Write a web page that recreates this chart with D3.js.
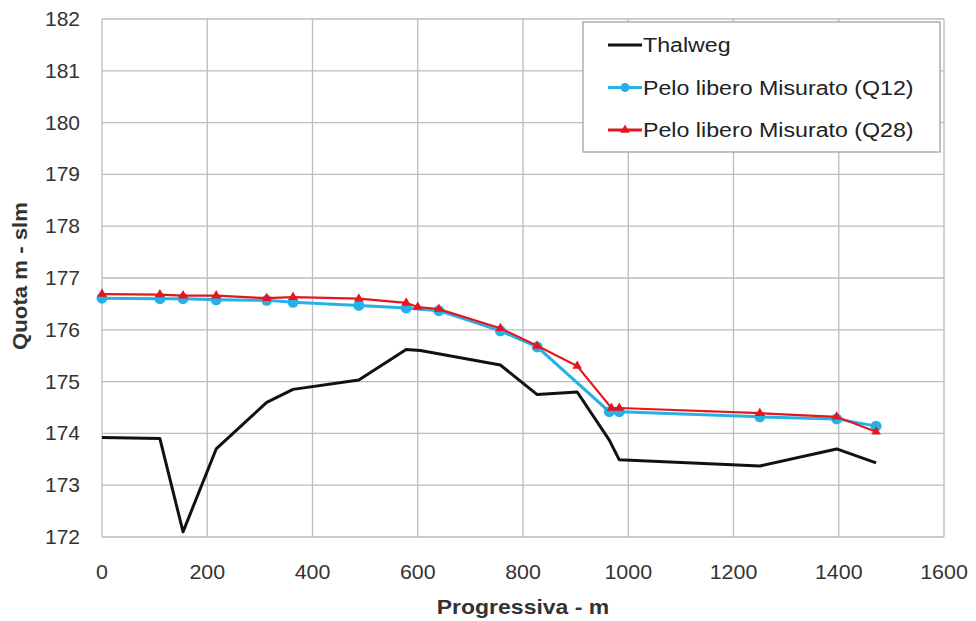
<!DOCTYPE html>
<html>
<head>
<meta charset="utf-8">
<script src="https://cdn.jsdelivr.net/npm/d3@7"></script>
<style>
  body { margin: 0; background: #fff; }
  text { font-family: "Liberation Sans", Arial, sans-serif; }
</style>
</head>
<body>
<div id="chart"></div>
<script>
// values
var thalwegX = [0, 110, 154, 217, 313, 363, 488, 578, 605, 757, 827, 903, 964, 983, 1250, 1396, 1471];
var thalwegY = [173.92, 173.9, 172.1, 173.7, 174.6, 174.85, 175.03, 175.62, 175.6, 175.32, 174.75, 174.8, 173.87, 173.49, 173.37, 173.7, 173.43];

var q12X = [0, 110, 154, 217, 313, 363, 488, 578, 640, 757, 827, 964, 983, 1250, 1396, 1471];
var q12Y = [176.61, 176.6, 176.6, 176.58, 176.57, 176.53, 176.47, 176.42, 176.37, 175.98, 175.67, 174.42, 174.42, 174.32, 174.28, 174.14];

var q28X = [0, 110, 154, 217, 313, 363, 488, 578, 600, 640, 757, 827, 903, 968, 983, 1250, 1396, 1471];
var q28Y = [176.69, 176.68, 176.66, 176.66, 176.61, 176.63, 176.6, 176.52, 176.44, 176.4, 176.03, 175.69, 175.3, 174.49, 174.49, 174.39, 174.32, 174.03];

var xTicks = [0, 200, 400, 600, 800, 1000, 1200, 1400, 1600];
var yTicks = [172, 173, 174, 175, 176, 177, 178, 179, 180, 181, 182];
var legendNames = ["Thalweg", "Pelo libero Misurato (Q12)", "Pelo libero Misurato (Q28)"];

var svgWidth = 976, svgHeight = 621;
var margin = { top: 19, right: 32, bottom: 84, left: 102 };
var width = svgWidth - margin.left - margin.right;
var height = svgHeight - margin.top - margin.bottom;

var svg = d3.select("#chart")
  .append("svg")
  .attr("width", svgWidth)
  .attr("height", svgHeight);

var g = svg.append("g")
  .attr("transform", "translate(" + margin.left + "," + margin.top + ")");

var x = d3.scaleLinear().domain([0, 1600]).range([0, width]);
var y = d3.scaleLinear().domain([172, 182]).range([height, 0]);

// the original text is a bit wider than Liberation Sans, so stretch it
function wideText(parent, tx, ty, str, opts) {
  var t = parent.append("text")
    .attr("transform", "translate(" + tx + "," + ty + ")" + (opts.rotate ? " rotate(" + opts.rotate + ")" : "") + " scale(" + opts.sx + ",1)")
    .attr("text-anchor", opts.anchor || "start")
    .attr("font-size", opts.size)
    .attr("fill", opts.fill || "#333")
    .text(str);
  if (opts.bold) t.attr("font-weight", "bold");
  if (opts.dy) t.attr("dy", opts.dy);
  return t;
}

// grid
g.selectAll(".vgrid").data(xTicks).enter().append("line")
  .attr("x1", function(d) { return x(d); })
  .attr("x2", function(d) { return x(d); })
  .attr("y1", 0).attr("y2", height)
  .attr("stroke", "#bdbdbd").attr("stroke-width", 1.3);

g.selectAll(".hgrid").data(yTicks).enter().append("line")
  .attr("x1", 0).attr("x2", width)
  .attr("y1", function(d) { return y(d); })
  .attr("y2", function(d) { return y(d); })
  .attr("stroke", "#bdbdbd").attr("stroke-width", 1.3);

// tick labels
yTicks.forEach(function(d) {
  wideText(g, -22, y(d), d, { size: 20, sx: 1.05, anchor: "end", dy: "0.35em" });
});
xTicks.forEach(function(d) {
  wideText(g, x(d), height + 42, d, { size: 20, sx: 1.07, anchor: "middle" });
});

// axis titles
wideText(svg, margin.left + width / 2, 614, "Progressiva - m",
  { size: 20, sx: 1.15, anchor: "middle", bold: true });
wideText(svg, 27, 276, "Quota m - slm",
  { size: 20, sx: 1.11, anchor: "middle", bold: true, rotate: -90 });

var line = d3.line()
  .x(function(d) { return x(d[0]); })
  .y(function(d) { return y(d[1]); });

function zipPts(xs, ys) {
  return xs.map(function(v, i) { return [v, ys[i]]; });
}

var thalweg = zipPts(thalwegX, thalwegY);
var q12 = zipPts(q12X, q12Y);
var q28 = zipPts(q28X, q28Y);

g.append("path").datum(thalweg)
  .attr("d", line).attr("fill", "none")
  .attr("stroke", "#111").attr("stroke-width", 3)
  .attr("stroke-linejoin", "round");

g.append("path").datum(q12)
  .attr("d", line).attr("fill", "none")
  .attr("stroke", "#26b1e6").attr("stroke-width", 3);

g.selectAll(".q12pt").data(q12).enter().append("circle")
  .attr("cx", function(d) { return x(d[0]); })
  .attr("cy", function(d) { return y(d[1]); })
  .attr("r", 5.5)
  .attr("fill", "#26b1e6");

g.append("path").datum(q28)
  .attr("d", line).attr("fill", "none")
  .attr("stroke", "#e4161e").attr("stroke-width", 2.2);

var tri = d3.symbol().type(d3.symbolTriangle).size(40);
g.selectAll(".q28pt").data(q28).enter().append("path")
  .attr("d", tri)
  .attr("transform", function(d) { return "translate(" + x(d[0]) + "," + y(d[1]) + ")"; })
  .attr("fill", "#e4161e");

// legend
var lg = svg.append("g").attr("transform", "translate(583,22)");
lg.append("rect")
  .attr("width", 357).attr("height", 130)
  .attr("fill", "#fff")
  .attr("stroke", "#9a9a9a").attr("stroke-width", 1.2);

var legendColors = ["#111", "#26b1e6", "#e4161e"];
legendNames.forEach(function(name, i) {
  var ly = 23 + i * 42.5;
  lg.append("line")
    .attr("x1", 25).attr("x2", 59)
    .attr("y1", ly).attr("y2", ly)
    .attr("stroke", legendColors[i]).attr("stroke-width", 3);
  if (i === 1) {
    lg.append("circle").attr("cx", 42).attr("cy", ly).attr("r", 4.5).attr("fill", legendColors[i]);
  }
  if (i === 2) {
    lg.append("path").attr("d", tri)
      .attr("transform", "translate(42," + ly + ")")
      .attr("fill", legendColors[i]);
  }
  wideText(lg, 60, ly, name, { size: 20, sx: 1.16, dy: "0.35em", fill: "#222" });
});
</script>
</body>
</html>
